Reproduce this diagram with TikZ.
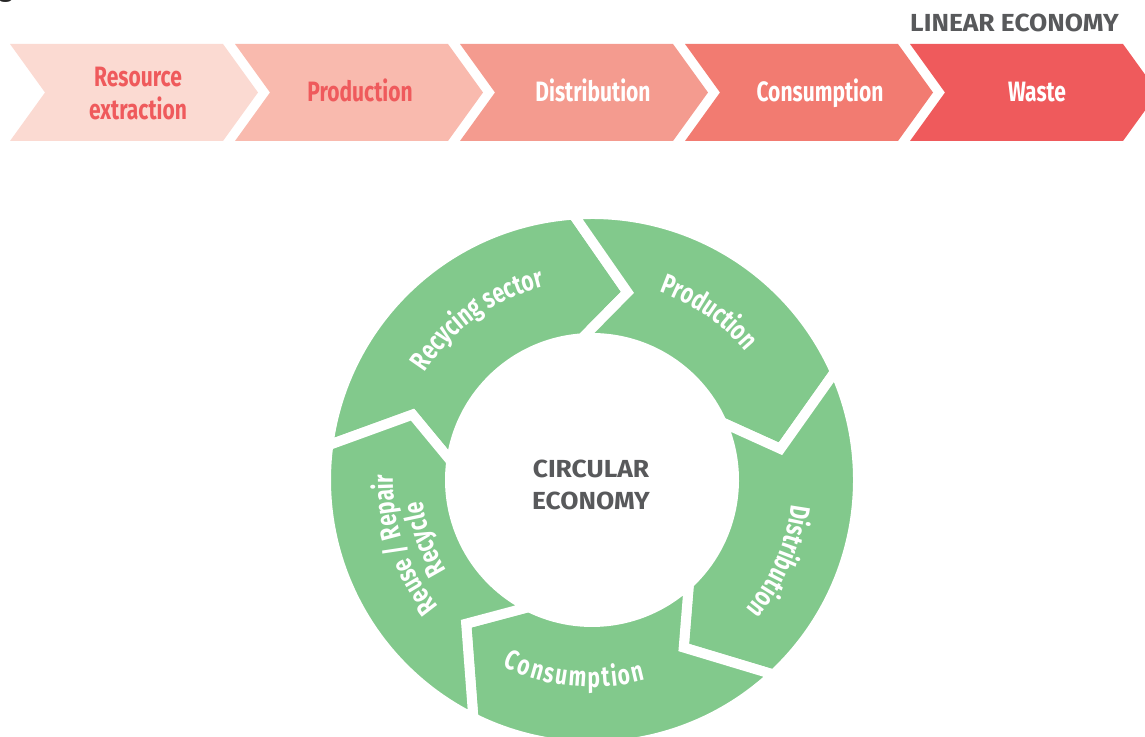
\documentclass[tikz,border=0pt]{standalone}
\usepackage{fontspec}
\setmainfont{Fira Sans}
\newfontfamily\narrowfont{Fira Sans}[FakeStretch=0.75]
\newfontfamily\headfont{Fira Sans}[FakeStretch=1.07]
\usetikzlibrary{decorations.text}

\definecolor{stepA}{HTML}{FBDAD2}
\definecolor{stepB}{HTML}{F9BAAE}
\definecolor{stepC}{HTML}{F49B8F}
\definecolor{stepD}{HTML}{F27B71}
\definecolor{stepE}{HTML}{EF5A5C}
\definecolor{stepred}{HTML}{EF5A5C}
\definecolor{ringgreen}{HTML}{82C98C}
\definecolor{headgray}{HTML}{58595B}

\newcommand\steptext{\narrowfont\bfseries\fontsize{21}{24.75}\selectfont}
\newcommand\headtext{\headfont\bfseries\fontsize{18.5}{24}\selectfont}

\tikzset{
  steplabel/.style={font=\steptext, align=center, inner sep=0pt},
  ringpart/.style={fill=ringgreen, draw=white, line width=7.5pt},
  ringlabel/.style={decorate, decoration={text along path, text align=center,
      text color=white, text={|\steptext|#1}}},
}

\begin{document}
\begin{tikzpicture}[x=0.75pt, y=0.75pt]
\useasboundingbox (0,0) rectangle (1145,737);

% cut caption letter
\node[anchor=base west, inner sep=0pt, font=\fontsize{21}{24}\selectfont, text=black!85] (capg) at (-2,740) {g};

% linear economy
\node[anchor=base east, inner sep=0pt, font=\headtext, text=headgray] (linear) at (1119,705) {LINEAR ECONOMY};

\fill[stepA] (10,693) -- ++(213,0) -- ++(35,-48.5) -- ++(-35,-48.5) -- ++(-213,0) -- ++(35,48.5) -- cycle;
\fill[stepB] (235,693) -- ++(213,0) -- ++(35,-48.5) -- ++(-35,-48.5) -- ++(-213,0) -- ++(35,48.5) -- cycle;
\fill[stepC] (460,693) -- ++(213,0) -- ++(35,-48.5) -- ++(-35,-48.5) -- ++(-213,0) -- ++(35,48.5) -- cycle;
\fill[stepD] (685,693) -- ++(213,0) -- ++(35,-48.5) -- ++(-35,-48.5) -- ++(-213,0) -- ++(35,48.5) -- cycle;
\fill[stepE] (910,693) -- ++(213,0) -- ++(35,-48.5) -- ++(-35,-48.5) -- ++(-213,0) -- ++(35,48.5) -- cycle;

\node[steplabel, text=stepred] (extract) at (138,643) {Resource\\extraction};
\node[steplabel, text=stepred, anchor=base] (produce) at (360,635) {Production};
\node[steplabel, text=white, anchor=base] (distribute) at (593,635) {Distribution};
\node[steplabel, text=white, anchor=base] (consume) at (820,635) {Consumption};
\node[steplabel, text=white, anchor=base] (waste) at (1037,635) {Waste};

% circular economy
\begin{scope}[shift={(592,257)}]
\path[ringpart] (172.5:266) arc[start angle=172.5, end angle=94, radius=266] -- (79.3:191)
  -- (94:142) arc[start angle=94, end angle=172.5, radius=142] -- (160:191) -- cycle;
\path[ringpart] (94:266) arc[start angle=94, end angle=24, radius=266] -- (9.4:191)
  -- (24:142) arc[start angle=24, end angle=94, radius=142] -- (79.3:191) -- cycle;
\path[ringpart] (24:266) arc[start angle=24, end angle=-47, radius=266] -- (-61.3:191)
  -- (-47:142) arc[start angle=-47, end angle=24, radius=142] -- (9.4:191) -- cycle;
\path[ringpart] (-47:266) arc[start angle=-47, end angle=-116.5, radius=266] -- (-131.2:191)
  -- (-116.5:142) arc[start angle=-116.5, end angle=-47, radius=142] -- (-61.3:191) -- cycle;
\path[ringpart] (-116.5:266) arc[start angle=-116.5, end angle=-187.5, radius=266] -- (-200:191)
  -- (-187.5:142) arc[start angle=-187.5, end angle=-116.5, radius=142] -- (-131.2:191) -- cycle;

\path[ringlabel={Recycing sector}] (165.5:199) arc[start angle=165.5, end angle=85.5, radius=199];
\path[ringlabel={Production}] (95.2:200) arc[start angle=95.2, end angle=15.2, radius=200];
\path[ringlabel={Distribution}] (16.6:201) arc[start angle=16.6, end angle=-63.4, radius=201];
\path[ringlabel={Consumption}, decoration={text align=fit to path}] (-115.5:207) arc[start angle=-115.5, end angle=-75, radius=207];
\path[ringlabel={Reuse / Repair}] (239:199) arc[start angle=239, end angle=159, radius=199];
\path[ringlabel={Recycle}] (239.5:171) arc[start angle=239.5, end angle=159.5, radius=171];

\node[align=center, inner sep=0pt, font=\headtext, text=headgray] (circular) at (-1,-4.5) {CIRCULAR\\ECONOMY};
\end{scope}
\end{tikzpicture}
\end{document}
